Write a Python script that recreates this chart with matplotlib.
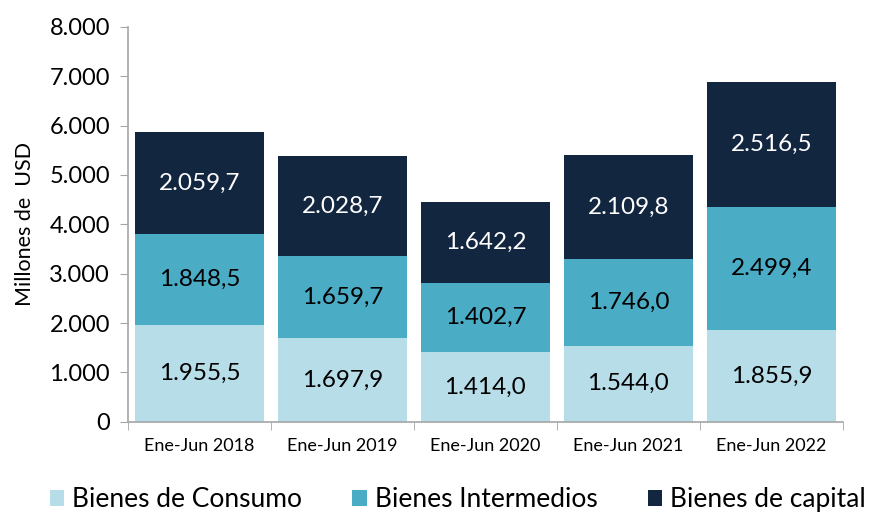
import numpy as np
import matplotlib.pyplot as plt
from matplotlib.ticker import FuncFormatter

plt.rcParams['font.family'] = ['Lato', 'DejaVu Sans']

periods = ["Ene-Jun 2018", "Ene-Jun 2019", "Ene-Jun 2020", "Ene-Jun 2021", "Ene-Jun 2022"]
consumo = [1955.5, 1697.9, 1414.0, 1544.0, 1855.9]
intermedios = [1848.5, 1659.7, 1402.7, 1746.0, 2499.4]
capital = [2059.7, 2028.7, 1642.2, 2109.8, 2516.5]

series_names = ["Bienes de Consumo", "Bienes Intermedios", "Bienes de capital"]
colors = ["#b7dde8", "#4bacc6", "#132640"]
text_colors = ["black", "black", "white"]


def es_num(v, dec=1):
    s = "{:,.{}f}".format(v, dec)
    return s.replace(",", "X").replace(".", ",").replace("X", ".")


fig = plt.figure(figsize=(8.77, 5.15), dpi=100)
ax = fig.add_axes([0.146, 0.181, 0.815, 0.767])

x = np.arange(len(periods))
bottom = np.zeros(len(periods))
handles = []
for vals, name, col, tc in zip([consumo, intermedios, capital], series_names, colors, text_colors):
    vals = np.array(vals)
    b = ax.bar(x, vals, width=0.9, bottom=bottom, color=col, label=name)
    handles.append(b)
    for xi, v, b0 in zip(x, vals, bottom):
        ax.text(xi, b0 + v / 2, es_num(v), ha="center", va="center",
                fontsize=17.5, color=tc)
    bottom += vals

ax.set_xlim(-0.5, len(periods) - 0.5)
ax.set_ylim(0, 8000)
ax.set_yticks(np.arange(0, 8001, 1000))
ax.yaxis.set_major_formatter(FuncFormatter(lambda v, p: es_num(v, 0)))
ax.set_xticks(x)
ax.set_xticklabels(periods, fontsize=13)
ax.set_xticks(np.arange(-0.5, len(periods)), minor=True)
ax.tick_params(axis="x", which="major", length=0, pad=12)
ax.tick_params(axis="x", which="minor", length=6, color="#a6a6a6")
ax.tick_params(axis="y", labelsize=17, length=6, color="#a6a6a6", pad=7)

for s in ["top", "right"]:
    ax.spines[s].set_visible(False)
for s in ["left", "bottom"]:
    ax.spines[s].set_color("#a6a6a6")
    ax.spines[s].set_linewidth(1.2)

ax.set_ylabel("Millones de  USD", fontsize=15.5, labelpad=10)

fig.legend(handles=handles, labels=series_names, loc="center",
           bbox_to_anchor=(0.522, 0.03), ncol=3, frameon=False, fontsize=19,
           handlelength=0.55, handleheight=0.55, handletextpad=0.3, columnspacing=1.9,
           borderpad=0.0, borderaxespad=0.0)

fig.savefig("out.png", dpi=100)
